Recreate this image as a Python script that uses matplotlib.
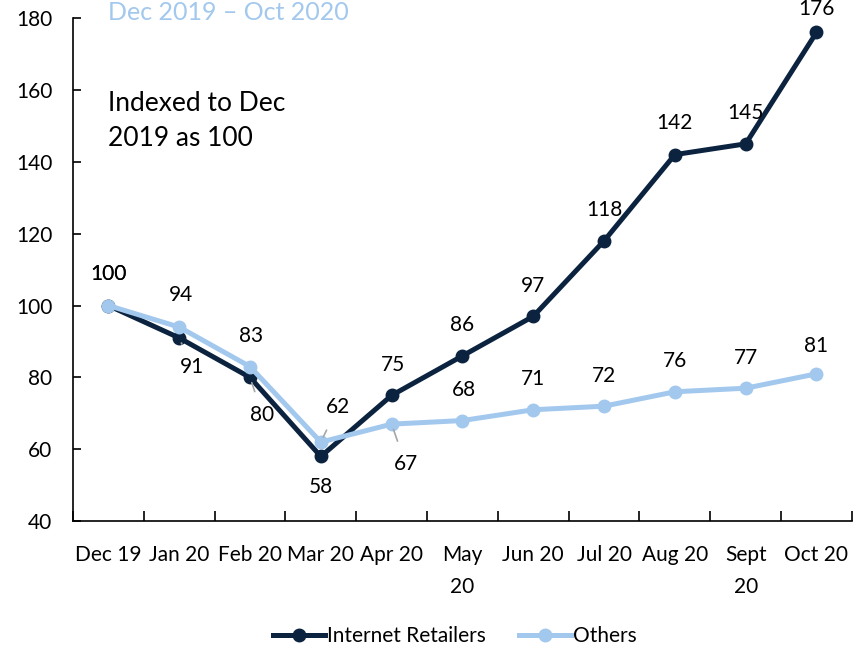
import matplotlib.pyplot as plt
import numpy as np

plt.rcParams['font.family'] = ['Lato', 'DejaVu Sans']

# data
months = ['Dec 19', 'Jan 20', 'Feb 20', 'Mar 20', 'Apr 20', 'May\n20',
          'Jun 20', 'Jul 20', 'Aug 20', 'Sept\n20', 'Oct 20']
internet_retailers = [100, 91, 80, 58, 75, 86, 97, 118, 142, 145, 176]
others = [100, 94, 83, 62, 67, 68, 71, 72, 76, 77, 81]

navy = '#0c2340'
light = '#a3c8ee'

# label offsets in points (dx, dy), leader line yes/no
ir_offsets = [(0, 23), (9, -21), (9, -27), (0, -22), (1, 22), (0, 22),
              (0, 22), (0, 22), (0, 23), (0, 22), (0, 17)]
ir_leader = [False, True, True, False, False, False, False, False, False, False, False]
ot_offsets = [(0, 23), (1, 23), (1, 22), (12, 25), (10, -29), (1, 22),
              (0, 22), (0, 22), (0, 22), (0, 22), (0, 20)]
ot_leader = [False, False, False, True, True, False, False, False, False, False, False]

fig = plt.figure(figsize=(8.64, 6.45), dpi=100)
ax = fig.add_axes([0.0845, 0.192, 0.9015, 0.78])

x = np.arange(len(months))
ax.plot(x, internet_retailers, color=navy, lw=3.6, marker='o', ms=9,
        label='Internet Retailers', zorder=3)
ax.plot(x, others, color=light, lw=3.6, marker='o', ms=9,
        label='Others', zorder=4)


def label(vals, offsets, leaders):
    for i, v in enumerate(vals):
        dx, dy = offsets[i]
        props = None
        if leaders[i]:
            props = dict(arrowstyle='-', color='#a6a6a6', lw=1.2, shrinkA=8, shrinkB=4)
        ax.annotate(str(v), (i, v), xytext=(dx, dy), textcoords='offset points',
                    ha='center', va='center', fontsize=15, color='black',
                    arrowprops=props, zorder=5, annotation_clip=False)


label(internet_retailers, ir_offsets, ir_leader)
label(others, ot_offsets, ot_leader)

ax.set_xlim(-0.5, len(months) - 0.5)
ax.set_ylim(40, 180)
ax.set_yticks(range(40, 181, 20))
ax.set_xticks(x)
ax.set_xticklabels(months, fontsize=15, linespacing=1.75, va='top')
ax.set_xticks(np.arange(-0.5, len(months), 1), minor=True)
ax.tick_params(axis='x', which='major', length=0, pad=17)
ax.tick_params(axis='x', which='minor', direction='in', length=7, width=1.2)
ax.tick_params(axis='y', direction='in', length=6, width=1.2, labelsize=15, pad=15)
for s in ['top', 'right']:
    ax.spines[s].set_visible(False)
for s in ['left', 'bottom']:
    ax.spines[s].set_linewidth(1.2)

fig.text(108 / 864, 1 - 121 / 645, 'Indexed to Dec\n2019 as 100',
         fontsize=19, va='center', ha='left', linespacing=1.5)
fig.text(108 / 864, 0.999, 'Dec 2019 \u2013 Oct 2020', fontsize=18, color=light,
         va='top', ha='left')

ax.legend(loc='center', bbox_to_anchor=(0.49, -0.228), ncol=2, frameon=False,
          fontsize=15, handlelength=2.5, handletextpad=0.1, columnspacing=1.6)

fig.savefig('out.png', dpi=100)
